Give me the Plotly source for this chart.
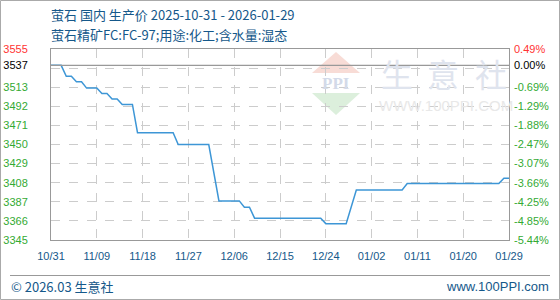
import plotly.graph_objects as go

# ---- data ----
dates = ["2025-10-31", "2025-11-02", "2025-11-03", "2025-11-04", "2025-11-05", "2025-11-06",
         "2025-11-07", "2025-11-09", "2025-11-10", "2025-11-11", "2025-11-12", "2025-11-13",
         "2025-11-14", "2025-11-16", "2025-11-17", "2025-11-24", "2025-11-25", "2025-12-01",
         "2025-12-03", "2025-12-07", "2025-12-08", "2025-12-09", "2025-12-10", "2025-12-23",
         "2025-12-24", "2025-12-28", "2025-12-30", "2026-01-08", "2026-01-09", "2026-01-27",
         "2026-01-28", "2026-01-29"]
prices = [3537, 3537, 3525, 3525, 3519, 3519,
          3512, 3512, 3506, 3506, 3500, 3500,
          3494, 3494, 3463, 3463, 3450, 3450,
          3388, 3388, 3381, 3381, 3369, 3369,
          3363, 3363, 3400, 3400, 3407, 3407,
          3413, 3413]

base_price = 3537
left_vals = [3345, 3366, 3387, 3408, 3429, 3450, 3471, 3492, 3513, 3534, 3537, 3555]
left_text = ["3345", "3366", "3387", "3408", "3429", "3450", "3471", "3492", "3513", "", "3537", "3555"]
right_vals = [3345, 3366, 3387, 3408, 3429, 3450, 3471, 3492, 3513, 3537, 3555]
right_text = ["-5.44%", "-4.85%", "-4.25%", "-3.66%", "-3.07%", "-2.47%", "-1.88%", "-1.29%",
              "-0.69%", "0.00%", "0.49%"]
x_tick_dates = ["2025-10-31", "2025-11-09", "2025-11-18", "2025-11-27", "2025-12-06", "2025-12-15",
                "2025-12-24", "2026-01-02", "2026-01-11", "2026-01-20", "2026-01-29"]
x_tick_text = ["10/31", "11/09", "11/18", "11/27", "12/06", "12/15", "12/24", "01/02", "01/11",
               "01/20", "01/29"]

title = "萤石 国内 生产价 2025-10-31 - 2026-01-29"
subtitle = "萤石精矿FC:FC-97;用途:化工;含水量:湿态"

# ---- styling ----
RED = "#ff3333"
GREEN = "#33aa33"
BLACK = "#000000"
BLUE_TXT = "#15588a"
LINE = "#3d96d6"

W, H = 560, 300
L, R, T, B = 51, 51, 49, 60
PW, PH = W - L - R, H - T - B


def X(p):
    return (p - L) / PW


def Y(p):
    return (H - B - p) / PH


def colored(v, t):
    if v > base_price:
        c = RED
    elif v == base_price:
        c = BLACK
    else:
        c = GREEN
    return f"<span style='color:{c}'>{t}</span>"


left_ticktext = [colored(v, t) if t else "" for v, t in zip(left_vals, left_text)]
right_ticktext = [colored(v, t) for v, t in zip(right_vals, right_text)]

fig = go.Figure()
fig.add_trace(go.Scatter(x=dates, y=prices, mode="lines",
                         line=dict(color=LINE, width=1.5), hoverinfo="skip", showlegend=False))
fig.add_trace(go.Scatter(x=dates, y=prices, mode="lines", yaxis="y2",
                         line=dict(color="rgba(0,0,0,0)", width=0), hoverinfo="skip", showlegend=False))

tick_font = dict(family="Liberation Sans", size=11)

fig.update_layout(
    width=W, height=H,
    margin=dict(l=L, r=R, t=T, b=B, autoexpand=False),
    paper_bgcolor="white", plot_bgcolor="white",
    xaxis=dict(type="date", range=[dates[0], dates[-1]],
               tickvals=x_tick_dates, ticktext=x_tick_text,
               tickfont=dict(family="Liberation Sans", size=11, color=BLUE_TXT),
               showgrid=True, gridcolor="#cccccc", griddash="dash", gridwidth=1,
               showline=True, linecolor="#999999", linewidth=1, mirror=True,
               ticks="", ticklabelstandoff=6, zeroline=False, automargin=False),
    yaxis=dict(range=[3345, 3555], tickvals=left_vals, ticktext=left_ticktext,
               tickfont=tick_font, showgrid=True, gridcolor="#cccccc", griddash="dash",
               showline=True, linecolor="#999999", linewidth=1, mirror=True,
               ticks="", ticklabelstandoff=20, zeroline=False, automargin=False),
    yaxis2=dict(range=[3345, 3555], overlaying="y", side="right",
                tickvals=right_vals, ticktext=right_ticktext, tickfont=tick_font,
                showgrid=False, showline=False, ticks="", ticklabelstandoff=4, zeroline=False,
                automargin=False),
)

shapes = []
# baseline
shapes.append(dict(type="line", xref="paper", yref="y", x0=0, x1=1, y0=base_price, y1=base_price,
                   line=dict(color="#999999", width=1.2), layer="above"))
# watermark logo triangles
shapes.append(dict(type="path", xref="paper", yref="paper", layer="below",
                   path=f"M {X(312)} {Y(73)} L {X(336)} {Y(52)} L {X(360)} {Y(73)} Z",
                   fillcolor="#f8dcd6", line=dict(width=0)))
shapes.append(dict(type="path", xref="paper", yref="paper", layer="below",
                   path=f"M {X(312)} {Y(93)} L {X(336)} {Y(115)} L {X(360)} {Y(93)} Z",
                   fillcolor="#dcefdc", line=dict(width=0)))
# outer border
shapes.append(dict(type="rect", xref="paper", yref="paper",
                   x0=X(0.5), x1=X(559.5), y0=Y(299.5), y1=Y(0.5),
                   line=dict(color="#aaaaaa", width=1)))
# footer separator
shapes.append(dict(type="line", xref="paper", yref="paper",
                   x0=X(10), x1=X(550), y0=Y(275.5), y1=Y(275.5),
                   line=dict(color="#999999", width=1)))
fig.update_layout(shapes=shapes)

ann = []
cjk = "Noto Sans CJK SC"
ann.append(dict(text=title, xref="paper", yref="paper", x=X(49), y=Y(15), xanchor="left",
                yanchor="middle", showarrow=False, font=dict(family=cjk, size=13, color=BLUE_TXT)))
ann.append(dict(text=subtitle, xref="paper", yref="paper", x=X(49), y=Y(34), xanchor="left",
                yanchor="middle", showarrow=False, font=dict(family=cjk, size=13, color=BLUE_TXT)))
ann.append(dict(text="© 2026.03 生意社", xref="paper", yref="paper", x=X(9), y=Y(286),
                xanchor="left", yanchor="middle", showarrow=False,
                font=dict(family=cjk, size=13, color=BLUE_TXT)))
ann.append(dict(text="www.100PPI.com", xref="paper", yref="paper", x=X(551), y=Y(286),
                xanchor="right", yanchor="middle", showarrow=False,
                font=dict(family="Liberation Sans", size=13, color=BLUE_TXT)))
# watermark text
for ch, cx in zip(["生", "意", "社"], [397, 443, 491]):
    ann.append(dict(text=ch, xref="paper", yref="paper", x=X(cx), y=Y(73), xanchor="center",
                    yanchor="middle", showarrow=False,
                    font=dict(family=cjk, size=32, color="#dfe4ee")))
ann.append(dict(text="WWW.100PPI.COM", xref="paper", yref="paper", x=X(446), y=Y(105),
                xanchor="center", yanchor="middle", showarrow=False,
                font=dict(family="Liberation Sans", size=15, color="#e8e8e8")))
ann.append(dict(text="<b>PPI</b>", xref="paper", yref="paper", x=X(336), y=Y(83),
                xanchor="center", yanchor="middle", showarrow=False,
                font=dict(family="Liberation Serif", size=17, color="#d3dae9")))
fig.update_layout(annotations=ann)

fig.write_html("out.html")
